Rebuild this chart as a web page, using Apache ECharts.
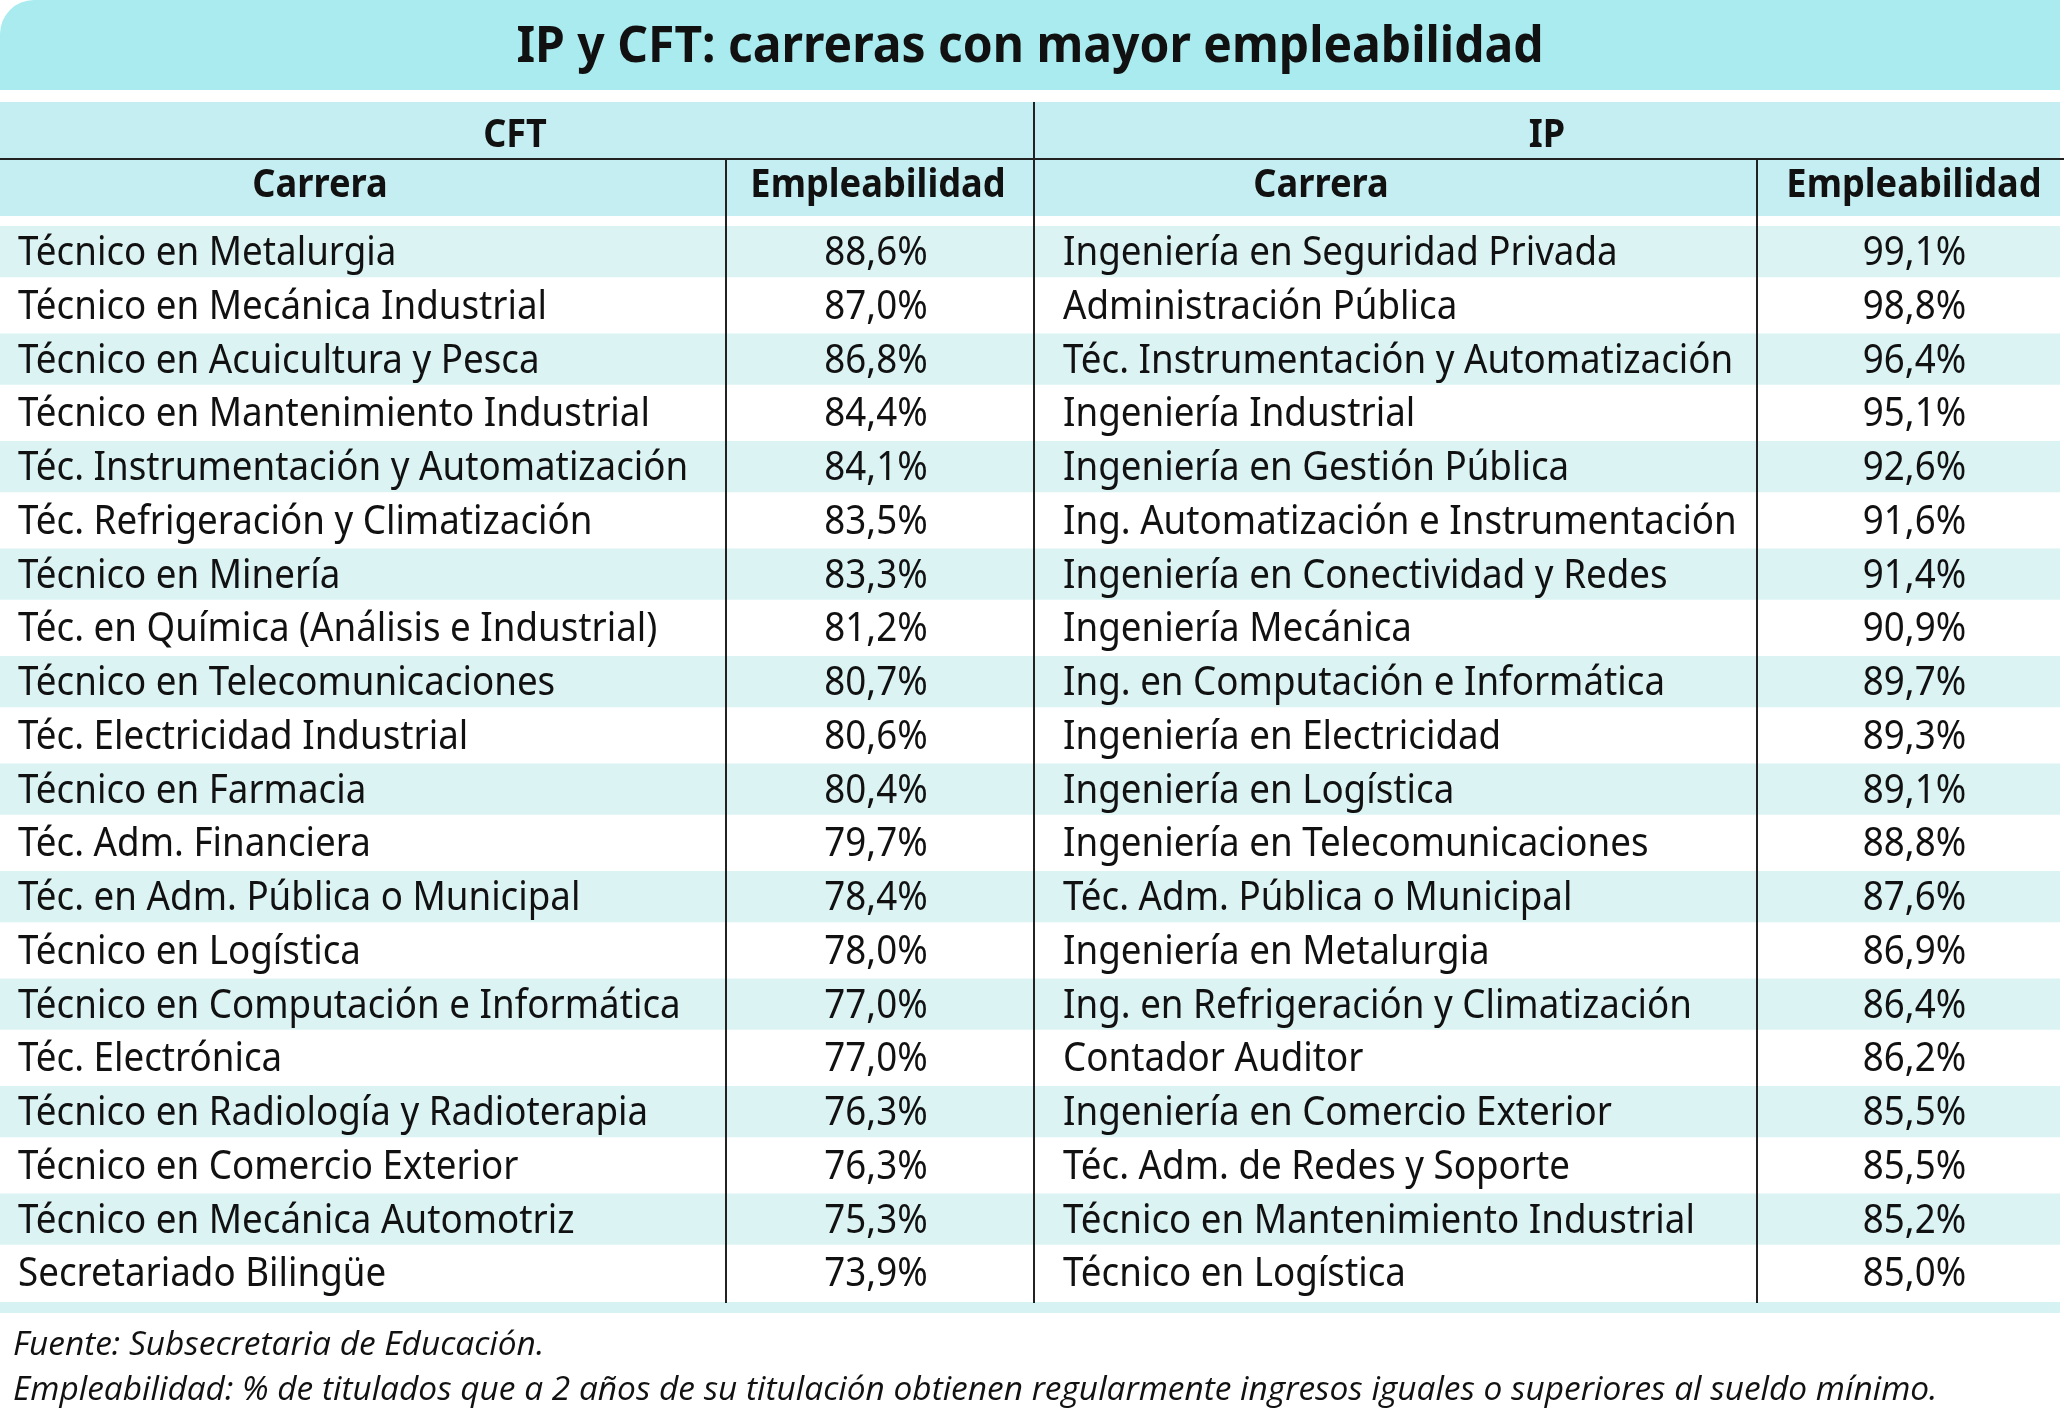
<!DOCTYPE html>
<html>
<head>
<meta charset="utf-8">
<title>IP y CFT: carreras con mayor empleabilidad</title>
<script src="https://cdn.jsdelivr.net/npm/echarts@6/dist/echarts.min.js"></script>
<style>
  html, body { margin: 0; padding: 0; background: #ffffff; }
  #table { width: 2064px; height: 1411px; }
</style>
</head>
<body>
<div id="table"></div>
<script>
// datos
const cftCarreras = [
    'Técnico en Metalurgia',
    'Técnico en Mecánica Industrial',
    'Técnico en Acuicultura y Pesca',
    'Técnico en Mantenimiento Industrial',
    'Téc. Instrumentación y Automatización',
    'Téc. Refrigeración y Climatización',
    'Técnico en Minería',
    'Téc. en Química (Análisis e Industrial)',
    'Técnico en Telecomunicaciones',
    'Téc. Electricidad Industrial',
    'Técnico en Farmacia',
    'Téc. Adm. Financiera',
    'Téc. en Adm. Pública o Municipal',
    'Técnico en Logística',
    'Técnico en Computación e Informática',
    'Téc. Electrónica',
    'Técnico en Radiología y Radioterapia',
    'Técnico en Comercio Exterior',
    'Técnico en Mecánica Automotriz',
    'Secretariado Bilingüe',
]
const cftEmpleabilidad = [88.6, 87.0, 86.8, 84.4, 84.1, 83.5, 83.3, 81.2, 80.7, 80.6,
    80.4, 79.7, 78.4, 78.0, 77.0, 77.0, 76.3, 76.3, 75.3, 73.9]

const ipCarreras = [
    'Ingeniería en Seguridad Privada',
    'Administración Pública',
    'Téc. Instrumentación y Automatización',
    'Ingeniería Industrial',
    'Ingeniería en Gestión Pública',
    'Ing. Automatización e Instrumentación',
    'Ingeniería en Conectividad y Redes',
    'Ingeniería Mecánica',
    'Ing. en Computación e Informática',
    'Ingeniería en Electricidad',
    'Ingeniería en Logística',
    'Ingeniería en Telecomunicaciones',
    'Téc. Adm. Pública o Municipal',
    'Ingeniería en Metalurgia',
    'Ing. en Refrigeración y Climatización',
    'Contador Auditor',
    'Ingeniería en Comercio Exterior',
    'Téc. Adm. de Redes y Soporte',
    'Técnico en Mantenimiento Industrial',
    'Técnico en Logística',
]
const ipEmpleabilidad = [99.1, 98.8, 96.4, 95.1, 92.6, 91.6, 91.4, 90.9, 89.7, 89.3,
    89.1, 88.8, 87.6, 86.9, 86.4, 86.2, 85.5, 85.5, 85.2, 85.0]

const grupos = ['CFT', 'IP']
const columnas = ['Carrera', 'Empleabilidad']
const titulo = 'IP y CFT: carreras con mayor empleabilidad'
const fuente = 'Fuente: Subsecretaria de Educación.'
const nota = 'Empleabilidad: % de titulados que a 2 años de su titulación obtienen regularmente ingresos iguales o superiores al sueldo mínimo.'

// estilos
const FONT = '"Noto Sans", "Open Sans", sans-serif'
const colorTitulo = '#a9ebee'
const colorCabecera = '#c5eef2'
const colorFranja = '#dcf3f4'
const colorTexto = '#111111'

// bordes de columnas en unidades del eje x (0 .. 2060)
const bordes = [0, 726, 1034, 1757, 2060]

const fmt = function(v) {
    return v.toFixed(1).replace('.', ',') + '%'
}

const filas = cftCarreras.map((c, i) => [i, c, cftEmpleabilidad[i], ipCarreras[i], ipEmpleabilidad[i]])

const renderFila = function(params, api) {
    const i = api.value(0)
    const p0 = api.coord([bordes[0], i])
    const pCft = api.coord([bordes[1], i])
    const pMid = api.coord([bordes[2], i])
    const pIp = api.coord([bordes[3], i])
    const pEnd = api.coord([bordes[4], i])
    const alto = api.size([0, 1])[1]
    const y = p0[1]
    const children = []
    if (i % 2 === 0) {
        children.push({
            type: 'rect',
            shape: { x: p0[0], y: y - alto / 2 + 1, width: pEnd[0] - p0[0], height: alto - 2.5 },
            style: { fill: colorFranja },
            silent: true,
        })
    }
    const texto = function(t, x, align) {
        return {
            type: 'text',
            x: x, y: y + 2,
            scaleX: 0.93,
            style: {
                text: t, x: 0, y: 0,
                textAlign: align, textVerticalAlign: 'middle',
                fontFamily: FONT, fontSize: 39.5, fill: colorTexto,
            },
        }
    }
    children.push(texto(filas[i][1], p0[0] + 18, 'left'))
    children.push(texto(fmt(filas[i][2]), (pCft[0] + pMid[0]) / 2 - 4, 'center'))
    children.push(texto(filas[i][3], pMid[0] + 29, 'left'))
    children.push(texto(fmt(filas[i][4]), (pIp[0] + pEnd[0]) / 2 + 6, 'center'))
    return { type: 'group', children: children }
}

const textoG = function(t, x, y, size, sx, weight, align, family, italic) {
    return {
        type: 'text',
        x: x, y: y,
        scaleX: sx,
        style: {
            text: t, textAlign: align, textVerticalAlign: 'middle',
            fontFamily: family || FONT, fontSize: size, fontWeight: weight,
            fontStyle: italic ? 'italic' : 'normal', fill: colorTexto,
        },
        z: 10,
    }
}

const linea = function(x1, y1, x2, y2) {
    return {
        type: 'line',
        shape: { x1: x1, y1: y1, x2: x2, y2: y2 },
        style: { stroke: '#222222', lineWidth: 2 },
        z: 20,
    }
}

const graficos = [
    // banda del título
    { type: 'rect', shape: { x: 0, y: 0, width: 2060, height: 90, r: [34, 0, 0, 0] }, style: { fill: colorTitulo }, z: 1 },
    textoG(titulo, 1030, 48, 50, 0.96, 'bold', 'center'),
    // cabeceras
    { type: 'rect', shape: { x: 0, y: 102, width: 2060, height: 114 }, style: { fill: colorCabecera }, z: 1 },
    textoG(grupos[0], 515, 136, 40, 0.9, 'bold', 'center'),
    textoG(grupos[1], 1547, 136, 40, 0.9, 'bold', 'center'),
    textoG(columnas[0], 320, 186, 40, 0.905, 'bold', 'center'),
    textoG(columnas[1], 878, 186, 40, 0.905, 'bold', 'center'),
    textoG(columnas[0], 1321, 186, 40, 0.905, 'bold', 'center'),
    textoG(columnas[1], 1914, 186, 40, 0.905, 'bold', 'center'),
    // barra inferior
    { type: 'rect', shape: { x: 0, y: 1302, width: 2060, height: 11 }, style: { fill: '#d6f2f2' }, z: 1 },
    // líneas
    linea(0, 159, 2064, 159),
    linea(1034, 102, 1034, 1303),
    linea(726, 159, 726, 1303),
    linea(1757, 159, 1757, 1303),
    // notas
    textoG(fuente, 13, 1346, 32, 1.045, 'normal', 'left', '"Open Sans", sans-serif', true),
    textoG(nota, 13, 1391, 32, 1.045, 'normal', 'left', '"Open Sans", sans-serif', true),
]

const option = {
    backgroundColor: '#ffffff',
    animation: false,
    grid: { left: 0, right: 4, top: 225, bottom: 111, containLabel: false },
    xAxis: { type: 'value', min: bordes[0], max: bordes[4], show: false },
    yAxis: {
        type: 'category',
        inverse: true,
        data: filas.map(f => f[0]),
        show: false,
    },
    series: [
        {
            type: 'custom',
            renderItem: renderFila,
            data: filas.map(f => [f[0]]),
            encode: { x: -1, y: 0 },
            silent: true,
            z: 5,
        },
    ],
    graphic: graficos,
}

const __main = function() {
    const chart = echarts.init(document.getElementById('table'))
    chart.setOption(option)
}

__main()
</script>
</body>
</html>
